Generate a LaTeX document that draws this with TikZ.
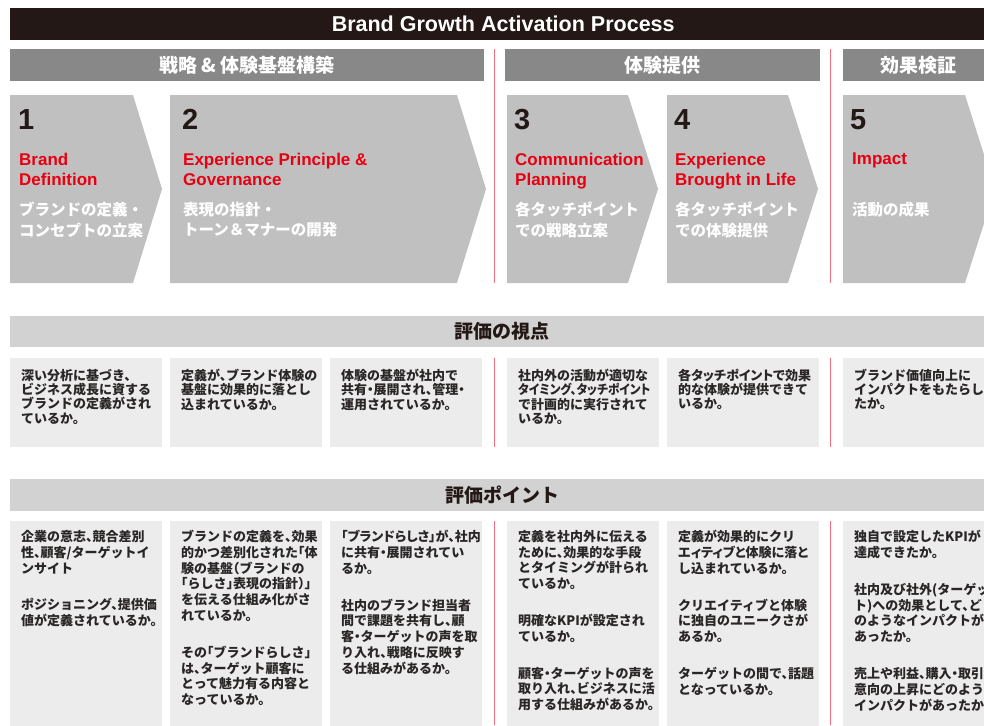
\documentclass[tikz,border=0pt]{standalone}
\usepackage{graphicx}
\usepackage{fontspec}
\setmainfont{Liberation Sans}
\newfontfamily\jp{Noto Sans CJK JP}
\newfontfamily\jpbox{Noto Sans CJK JP}[RawFeature=+halt]
\newfontfamily\jpprop{Noto Sans CJK JP}[RawFeature=+palt]
\newcommand\propline[1]{{\jpprop\bfseries #1}}
\definecolor{brandblack}{HTML}{231815}
\definecolor{brandred}{HTML}{E60012}
\definecolor{sepred}{HTML}{EF6F7E}
\definecolor{secgray}{HTML}{888888}
\definecolor{chevgray}{HTML}{C0C0C0}
\definecolor{bargray}{HTML}{D2D2D2}
\definecolor{cellgray}{HTML}{ECECEC}
\definecolor{textdark}{HTML}{2A2626}
\tikzset{
  bar/.style={anchor=north west,inner sep=0pt,minimum height=32},
  titlebar/.style={bar,fill=brandblack,text=white,font=\bfseries\fontsize{21.5}{22}\selectfont},
  secbar/.style={bar,fill=secgray,text=white,font=\jp\bfseries\fontsize{19}{19}\selectfont},
  rowbar/.style={bar,fill=bargray,text=brandblack,font=\jp\bfseries\fontsize{19}{19}\selectfont},
  chev/.style={fill=chevgray},
  stepnum/.style={anchor=base west,inner sep=0pt,text=brandblack,font=\bfseries\fontsize{29}{29}\selectfont},
  stepname/.style={anchor=north west,inner sep=0pt,align=left,text=brandred,font=\bfseries\fontsize{17}{19.5}\selectfont},
  stepjp/.style={anchor=north west,inner sep=0pt,align=left,text=white,font=\jp\bfseries\fontsize{15.5}{20.5}\selectfont},
  cell/.style={anchor=north west,inner sep=0pt,fill=cellgray,minimum width=152},
  celltext/.style={anchor=north west,inner sep=0pt,align=left,text=textdark},
  viewtext/.style={celltext,font=\jpbox\bfseries\fontsize{13}{14.2}\selectfont},
  pointtext/.style={celltext,font=\jpbox\bfseries\fontsize{13}{15.8}\selectfont},
  sepline/.style={draw=sepred,line width=1.2pt}
}
\begin{document}
\begin{tikzpicture}[x=1pt,y=-1pt]
\useasboundingbox (0,0) rectangle (984,725);
\clip (0,0) rectangle (984,725);

% header
\node[titlebar,minimum width=986] (title) at (10,8) {Brand Growth Activation Process};
\node[secbar,minimum width=474] (sec1) at (10,49) {戦略 \& 体験基盤構築};
\node[secbar,minimum width=315] (sec2) at (505,49) {体験提供};
\node[secbar,minimum width=150] (sec3) at (843,49) {効果検証};

% phase separators
\draw[sepline] (494.5,49) -- (494.5,283);
\draw[sepline] (830.5,49) -- (830.5,283);
\draw[sepline] (494.5,358) -- (494.5,447);
\draw[sepline] (830.5,358) -- (830.5,447);
\draw[sepline] (494.5,521) -- (494.5,725);
\draw[sepline] (830.5,521) -- (830.5,725);

% steps
\fill[chev] (10,95) -- (133,95) -- (162,189) -- (133,283) -- (10,283) -- cycle;
\fill[chev] (170,95) -- (457,95) -- (486,189) -- (457,283) -- (170,283) -- cycle;
\fill[chev] (507,95) -- (628,95) -- (658,189) -- (628,283) -- (507,283) -- cycle;
\fill[chev] (667,95) -- (788,95) -- (818,189) -- (788,283) -- (667,283) -- cycle;
\fill[chev] (843,95) -- (965,95) -- (995,189) -- (965,283) -- (843,283) -- cycle;

\node[stepnum] (n1) at (18,129) {1};
\node[stepname] (e1) at (19,153) {Brand\\Definition};
\node[stepjp] (j1) at (19,202) {ブランドの定義・\\コンセプトの立案};

\node[stepnum] (n2) at (182,129) {2};
\node[stepname] (e2) at (183,153) {Experience Principle \&\\Governance};
\node[stepjp] (j2) at (183,202) {表現の指針・\\トーン＆マナーの開発};

\node[stepnum] (n3) at (514,129) {3};
\node[stepname] (e3) at (515,153) {Communication\\Planning};
\node[stepjp] (j3) at (515,202) {各タッチポイント\\での戦略立案};

\node[stepnum] (n4) at (674,129) {4};
\node[stepname] (e4) at (675,153) {Experience\\Brought in Life};
\node[stepjp] (j4) at (675,202) {各タッチポイント\\での体験提供};

\node[stepnum] (n5) at (850,129) {5};
\node[stepname] (e5) at (852,153) {Impact};
\node[stepjp] (j5) at (852,202) {活動の成果};

% 評価の視点
\node[rowbar,minimum width=984,minimum height=31] (view) at (10,316) {評価の視点};

\node[cell,minimum height=89] (v1) at (10,358) {};
\node[cell,minimum height=89] (v2) at (170,358) {};
\node[cell,minimum height=89] (v3) at (330,358) {};
\node[cell,minimum height=89] (v4) at (507,358) {};
\node[cell,minimum height=89] (v5) at (667,358) {};
\node[cell,minimum height=89] (v6) at (843,358) {};

\node[viewtext] (vt1) at (21,369) {深い分析に基づき、\\ビジネス成長に資する\\ブランドの定義がされ\\ているか。};
\node[viewtext] (vt2) at (181,369) {定義が、ブランド体験の\\基盤に効果的に落とし\\込まれているか。};
\node[viewtext] (vt3) at (341,369) {体験の基盤が社内で\\共有・展開され、管理・\\運用されているか。};
\node[viewtext] (vt4) at (518,369) {社内外の活動が適切な\\\scalebox{0.9}[1]{\propline{タイミング、タッチポイント}}\\で計画的に実行されて\\いるか。};
\node[viewtext] (vt5) at (678,369) {\propline{各タッチポイントで効果}\\的な体験が提供できて\\いるか。};
\node[viewtext] (vt6) at (854,369) {ブランド価値向上に\\インパクトをもたらし\\たか。};

% 評価ポイント
\node[rowbar,minimum width=984] (point) at (10,479) {評価ポイント};

\node[cell,minimum height=210] (p1) at (10,521) {};
\node[cell,minimum height=210] (p2) at (170,521) {};
\node[cell,minimum height=210] (p3) at (330,521) {};
\node[cell,minimum height=210] (p4) at (507,521) {};
\node[cell,minimum height=210] (p5) at (667,521) {};
\node[cell,minimum height=210] (p6) at (843,521) {};

\node[pointtext] (pt1) at (21,530) {企業の意志、競合差別\\性、顧客/ターゲットイ\\ンサイト\\[21pt]ポジショニング、提供価\\値が定義されているか。};
\node[pointtext] (pt2) at (181,530) {ブランドの定義を、効果\\的かつ差別化された「体\\験の基盤（ブランドの\\「らしさ」表現の指針）」\\を伝える仕組み化がさ\\れているか。\\[21pt]その「ブランドらしさ」\\は、ターゲット顧客に\\とって魅力有る内容と\\なっているか。};
\node[pointtext] (pt3) at (341,530) {\propline{「ブランドらしさ」が、社内}\\に共有・展開されてい\\るか。\\[21pt]社内のブランド担当者\\間で課題を共有し、顧\\客・ターゲットの声を取\\り入れ、戦略に反映す\\る仕組みがあるか。};
\node[pointtext] (pt4) at (518,530) {定義を社内外に伝える\\ために、効果的な手段\\とタイミングが計られ\\ているか。\\[21pt]明確なKPIが設定され\\ているか。\\[21pt]顧客・ターゲットの声を\\取り入れ、ビジネスに活\\用する仕組みがあるか。};
\node[pointtext] (pt5) at (678,530) {定義が効果的にクリ\\\propline{エィティブと体験に落と}\\し込まれているか。\\[21pt]クリエイティブと体験\\に独自のユニークさが\\あるか。\\[21pt]ターゲットの間で、話題\\となっているか。};
\node[pointtext] (pt6) at (854,530) {独自で設定したKPIが\\達成できたか。\\[21pt]社内及び社外(ターゲッ\\ト)への効果として、ど\\のようなインパクトが\\あったか。\\[21pt]売上や利益、購入・取引\\意向の上昇にどのような\\インパクトがあったか。};
\end{tikzpicture}
\end{document}
